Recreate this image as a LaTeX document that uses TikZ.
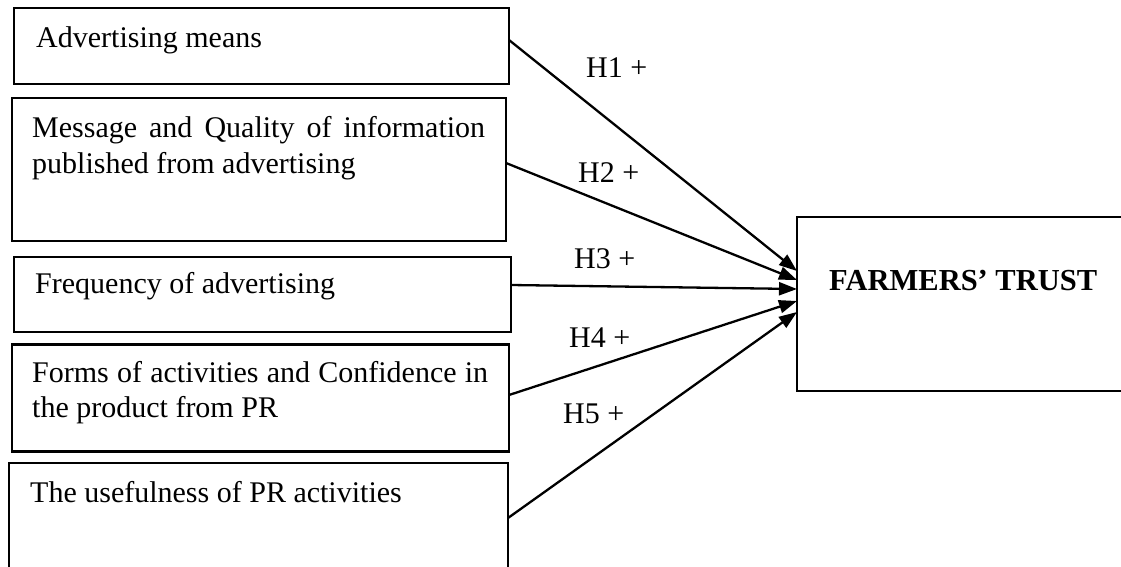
\documentclass[tikz,border=0pt]{standalone}
\usepackage{fontspec}
\setmainfont{Liberation Serif}
\usetikzlibrary{arrows.meta}
\begin{document}
\begin{tikzpicture}[x=1pt,y=-1pt,
  box/.style={draw, line width=2.8pt, outer sep=0pt, inner sep=0pt, anchor=north west},
  txt/.style={anchor=base west, inner sep=0pt, font=\fontsize{30}{36}\selectfont},
  lab/.style={anchor=base west, inner sep=0pt, font=\fontsize{30}{36}\selectfont},
  link/.style={line width=2.3pt, -{Triangle[length=18pt,width=13pt]}}]
\useasboundingbox (0,0) rectangle (1121,567);
\clip (0,0) rectangle (1121,567);
% boxes
\node[box, minimum width=495pt, minimum height=76pt] (b1) at (14,8) {};
\node[box, minimum width=494pt, minimum height=143pt] (b2) at (12,98) {};
\node[box, minimum width=497pt, minimum height=75pt] (b3) at (14,257) {};
\node[box, minimum width=497pt, minimum height=107pt] (b4) at (12,344.5) {};
\node[box, minimum width=499pt, minimum height=137pt] (b5) at (9,463) {};
\node[box, minimum width=343pt, minimum height=174pt] (t) at (797,217) {};
% texts
\node[txt] (t1) at (36,48) {Advertising means};
\node[txt] (t2a) at (32,137) {\makebox[453pt][s]{Message and Quality of information}};
\node[txt] (t2b) at (32,173) {published from advertising};
\node[txt] (t3) at (35,293) {Frequency of advertising};
\node[txt] (t4a) at (32,382) {\makebox[456pt][s]{Forms of activities and Confidence in}};
\node[txt] (t4b) at (32,417) {the product from PR};
\node[txt] (t5) at (30,502) {The usefulness of PR activities};
\node[txt, font=\fontsize{30.5}{36}\selectfont\bfseries] (tt) at (829,290) {FARMERS’ TRUST};
% connectors
\draw[link] ([yshift=6pt]b1.east) -- ([yshift=33pt]t.west);
\draw[link] ([yshift=6.5pt]b2.east) -- ([yshift=24pt]t.west);
\draw[link] ([yshift=9.5pt]b3.east) -- ([yshift=15pt]t.west);
\draw[link] ([yshift=3pt]b4.east) -- ([yshift=3pt]t.west);
\draw[link] ([yshift=13.5pt]b5.east) -- ([yshift=-8pt]t.west);
% labels
\node[lab] (h1) at (586,78) {H1 +};
\node[lab] (h2) at (578,182) {H2 +};
\node[lab] (h3) at (574,268) {H3 +};
\node[lab] (h4) at (569,347) {H4 +};
\node[lab] (h5) at (563,423) {H5 +};
\end{tikzpicture}
\end{document}
